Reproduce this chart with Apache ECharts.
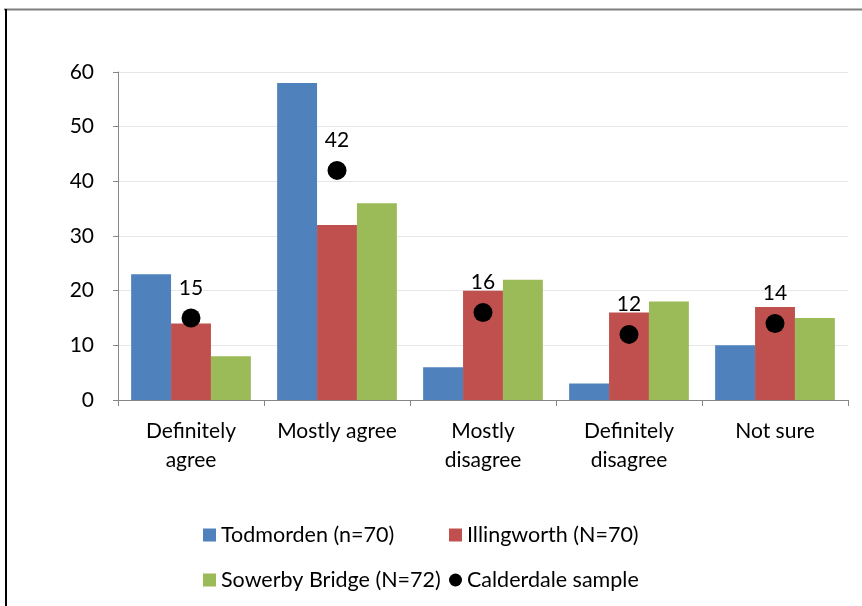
<!DOCTYPE html>
<html><head><meta charset="utf-8">
<script src="https://cdn.jsdelivr.net/npm/echarts@6/dist/echarts.min.js"></script>
<style>html,body{margin:0;padding:0;background:#fff}#c{width:862px;height:606px}</style>
</head><body><div id="c"></div>
<script>
const categories = ['Definitely\nagree', 'Mostly agree', 'Mostly\ndisagree', 'Definitely\ndisagree', 'Not sure'];
const todmorden = [23, 58, 6, 3, 10];
const illingworth = [14, 32, 20, 16, 17];
const sowerby = [8, 36, 22, 18, 15];
const calderdale = [15, 42, 16, 12, 14];
const seriesNames = ['Todmorden (n=70)', 'Illingworth (N=70)', 'Sowerby Bridge (N=72)', 'Calderdale sample'];
const yTicks = [0, 10, 20, 30, 40, 50, 60];

const FONT = 'Lato';
const FS = 21;
const chart = echarts.init(document.getElementById('c'));
const legendBase = {
  orient: 'horizontal', itemWidth: 13, itemHeight: 13, itemGap: 8, padding: 0,
  textStyle: { fontFamily: FONT, fontSize: 21.5, color: '#000' }
};
chart.setOption({
  animation: false,
  color: ['#4f81bd', '#c0504d', '#9bbb59', '#000000'],
  graphic: [
    { type: 'line', shape: { x1: 4, y1: 9.5, x2: 862, y2: 9.5 }, style: { stroke: '#7f7f7f', lineWidth: 2 } },
    { type: 'line', shape: { x1: 6, y1: 9, x2: 6, y2: 606 }, style: { stroke: '#000', lineWidth: 2 } }
  ],
  grid: { left: 118, right: 14, top: 72, bottom: 206, containLabel: false },
  legend: [
    Object.assign({}, legendBase, { data: [{ name: seriesNames[0], icon: 'rect' }], left: 203, top: 524 }),
    Object.assign({}, legendBase, { data: [{ name: seriesNames[1], icon: 'rect' }], left: 449, top: 524 }),
    Object.assign({}, legendBase, { data: [{ name: seriesNames[2], icon: 'rect' }], left: 203, top: 569 }),
    Object.assign({}, legendBase, { data: [{ name: seriesNames[3], icon: 'circle' }], left: 449, top: 569, itemWidth: 13, itemHeight: 13 })
  ],
  xAxis: {
    type: 'category', data: categories,
    axisLine: { lineStyle: { color: '#868686', width: 1 } },
    axisTick: { show: true, length: 6, alignWithLabel: false, lineStyle: { color: '#868686' } },
    axisLabel: { fontFamily: FONT, fontSize: FS, color: '#000', margin: 17, lineHeight: 29, interval: 0 }
  },
  yAxis: {
    type: 'value', min: 0, max: 60, interval: 10,
    axisLine: { show: true, lineStyle: { color: '#868686' } },
    axisTick: { show: true, length: 5, lineStyle: { color: '#868686' } },
    splitLine: { lineStyle: { color: '#e6e6e6' } },
    axisLabel: { fontFamily: FONT, fontSize: FS, color: '#000', margin: 24,
      formatter: v => yTicks.includes(v) ? String(v) : '' }
  },
  series: [
    { name: seriesNames[0], type: 'bar', data: todmorden, barGap: '0%', barCategoryGap: '18%' },
    { name: seriesNames[1], type: 'bar', data: illingworth, barGap: '0%', barCategoryGap: '18%' },
    { name: seriesNames[2], type: 'bar', data: sowerby, barGap: '0%', barCategoryGap: '18%' },
    { name: seriesNames[3], type: 'scatter', data: calderdale, symbol: 'circle', symbolSize: 19, z: 5,
      itemStyle: { color: '#000', opacity: 1 },
      label: { show: true, position: 'top', distance: 10, fontFamily: FONT, fontSize: FS, color: '#000' } }
  ]
});
</script></body></html>
